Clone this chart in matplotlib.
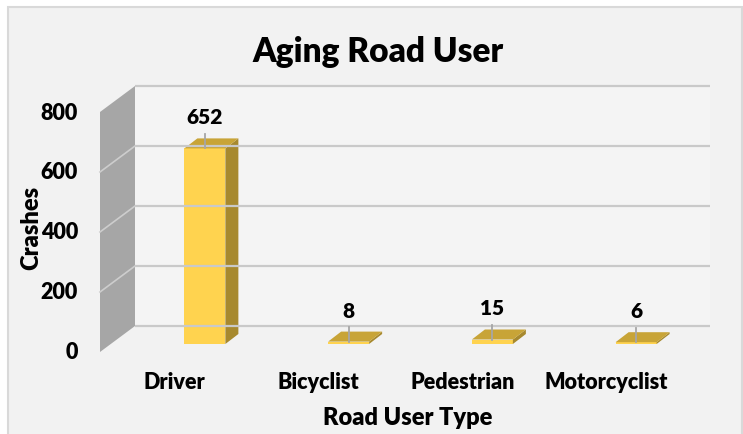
import numpy as np
import matplotlib.pyplot as plt
from matplotlib.patches import Polygon, Rectangle

plt.rcParams['font.family'] = ['Lato', 'DejaVu Sans']
plt.rcParams['font.weight'] = 'heavy'

# data
categories = ['Driver', 'Bicyclist', 'Pedestrian', 'Motorcyclist']
crashes = [652, 8, 15, 6]
y_ticks = [0, 200, 400, 600, 800]

# fake 3d geometry (in data units)
px_x = 143.75          # pixels per category
px_y = 0.3             # pixels per crash
wall_dx, wall_dy = 35 / px_x, 26 / px_y
bar_dx, bar_dy = 33 / px_x, 8 / px_y
bar_w = 41 / px_x
top_dx, top_dy = 13 / px_x, 10 / px_y

front_c = '#FFD34F'
top_c = '#C8A437'
side_c = '#A7892E'
wt = 'heavy'

fig = plt.figure(figsize=(7.43, 4.35), dpi=100)
fig.patch.set_facecolor('white')
fig.add_artist(Rectangle((8 / 743, -0.01), 734 / 743, 1 - 8 / 435 + 0.01,
                         transform=fig.transFigure, facecolor='#F2F2F2',
                         edgecolor='#D9D9D9', lw=1.5, zorder=-5))

ax = fig.add_axes([0, 0, 1, 1])
ax.axis('off')
ax.set_xlim(-0.5 - 100 / px_x, 3.5 + 68 / px_x)
ax.set_ylim(-82 / px_y, 353 / px_y)

x_lo, x_hi = -0.5, len(categories) - 0.5
top = y_ticks[-1]

# back wall + gridlines
ax.add_patch(Polygon([(x_lo + wall_dx, wall_dy), (x_hi + wall_dx, wall_dy),
                      (x_hi + wall_dx, top + wall_dy), (x_lo + wall_dx, top + wall_dy)],
                     closed=True, facecolor='#F4F4F4', edgecolor='none'))
for t in y_ticks:
    ax.plot([x_lo + wall_dx, x_hi + wall_dx], [t + wall_dy, t + wall_dy],
            color='#C9C9C9', lw=1.6, solid_capstyle='butt')

# side wall
ax.add_patch(Polygon([(x_lo, 0), (x_lo + wall_dx, wall_dy),
                      (x_lo + wall_dx, top + wall_dy), (x_lo, top)],
                     closed=True, facecolor='#A6A6A6', edgecolor='none'))
for t in y_ticks[1:-1]:
    ax.plot([x_lo, x_lo + wall_dx], [t, t + wall_dy], color='#CDCDCD', lw=1.2)

# bars
for i, v in enumerate(crashes):
    xc = i + bar_dx
    x0, x1 = xc - bar_w / 2, xc + bar_w / 2
    y0, y1 = bar_dy, bar_dy + v
    ax.bar(xc, v, width=bar_w, bottom=bar_dy, color=front_c, edgecolor='none')
    ax.add_patch(Polygon([(x1, y0), (x1 + top_dx, y0 + top_dy),
                          (x1 + top_dx, y1 + top_dy), (x1, y1)],
                         closed=True, facecolor=side_c, edgecolor='none'))
    ax.add_patch(Polygon([(x0, y1), (x1, y1), (x1 + top_dx, y1 + top_dy),
                          (x0 + top_dx, y1 + top_dy)],
                         closed=True, facecolor=top_c, edgecolor='none'))
    ax.plot([xc, xc], [y1, y1 + 48], color='#A6A6A6', lw=1.3)
    ax.text(xc, y1 + 105, str(v), ha='center', va='center', fontsize=15,
            fontweight=wt)

# tick labels
for t in y_ticks:
    ax.text(x_lo - 22 / px_x, t, str(t), ha='right', va='center',
            fontsize=15.5, fontweight=wt)
for i, c in enumerate(categories):
    ax.text(i + 0.02, -97, c, ha='center', va='center', fontsize=15.5,
            fontweight=wt)

fig.text(378 / 743, 1 - 52 / 435, 'Aging Road User', ha='center', va='center',
         fontsize=24, fontweight=wt)
fig.text(408 / 743, 1 - 418 / 435, 'Road User Type', ha='center', va='center',
         fontsize=17, fontweight=wt)
fig.text(31 / 743, 1 - 228 / 435, 'Crashes', ha='center', va='center',
         rotation=90, fontsize=17, fontweight=wt)

fig.savefig('out.png', dpi=100, facecolor=fig.get_facecolor())
